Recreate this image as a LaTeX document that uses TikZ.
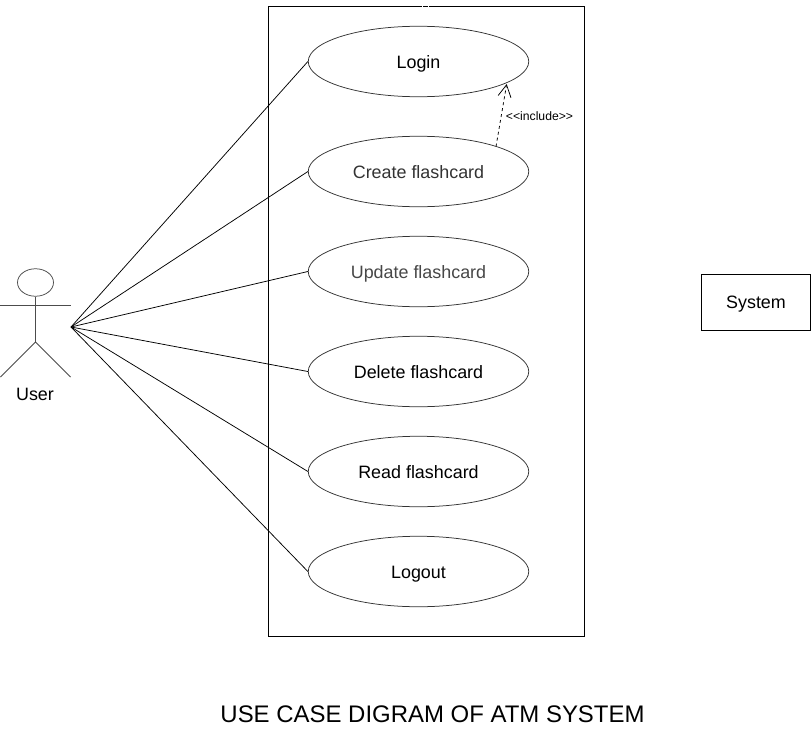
\documentclass[tikz,border=0pt]{standalone}
\usepackage{fontspec}
\setmainfont{Liberation Sans}
\usetikzlibrary{arrows.meta,shapes.geometric}
\tikzset{
 labelfont/.style={font=\fontsize{17.9bp}{21bp}\selectfont,text height=17bp,text depth=3.5bp},
 usecase/.style={draw=black!80,ellipse,minimum width=220.5bp,minimum height=70.5bp,inner sep=0pt,labelfont,line width=0.75bp},
 thin line/.style={line width=0.75bp,draw=black},
 actor line/.style={line width=0.75bp,draw=black!70}
}
\begin{document}
\begin{tikzpicture}[x=1bp,y=-1bp]
\useasboundingbox (0,0) rectangle (811,736);
\fill[white] (0,0) rectangle (811,736);
\node[draw,thin line,minimum width=316bp,minimum height=630bp,inner sep=0pt] (sys) at (426.5,321.5) {};
\fill[white] (422,5.5) rectangle (423,7);
\fill[white] (428,5.5) rectangle (429,7);
\node[usecase] (login) at (418.5,61.5) {Login};
\node[usecase,text=black!80] (create) at (418.5,171.5) {Create flashcard};
\node[usecase,text=black!72] (update) at (418.5,271.5) {Update flashcard};
\node[usecase] (delete) at (418.5,371.5) {Delete flashcard};
\node[usecase] (read) at (418.5,471.5) {Read flashcard};
\node[usecase] (logout) at (418.5,571.5) {Logout};
\node[draw,thin line,minimum width=109bp,minimum height=56bp,inner sep=0pt,labelfont] (system) at (756,302) {System};
% actor
\node[draw,ellipse,actor line,minimum width=36bp,minimum height=27.5bp,inner sep=0pt] (head) at (35.5,282.5) {};
\coordinate (hip) at (35.5,342);
\coordinate (hand) at (71,327);
\coordinate (armL) at (0.5,305);
\coordinate (armR) at (70.5,305);
\coordinate (legL) at (0.5,377);
\coordinate (legR) at (70.5,377);
\coordinate (incA) at (496,146.5);
\coordinate (incB) at (506.7,84);
\draw[actor line] (head.south) -- (hip);
\draw[actor line] (armL) -- (armR);
\draw[actor line] (legL) -- (hip) -- (legR);
\node[labelfont] (user) at (35,394) {User};
\foreach \t in {login,create,update,delete,read,logout}{
 \draw[thin line] (hand) -- (\t.west);
}
\draw[thin line,dashed,-{Straight Barb[length=12bp,width=13bp]}] (incA) -- (incB);
\node[font=\fontsize{12.2bp}{14bp}\selectfont] (inc) at (539.5,116) {<{}<include>{}>};
\node[font=\fontsize{23.95bp}{28bp}\selectfont] (title) at (432.5,714.5) {USE CASE DIGRAM OF ATM SYSTEM};
\end{tikzpicture}
\end{document}
